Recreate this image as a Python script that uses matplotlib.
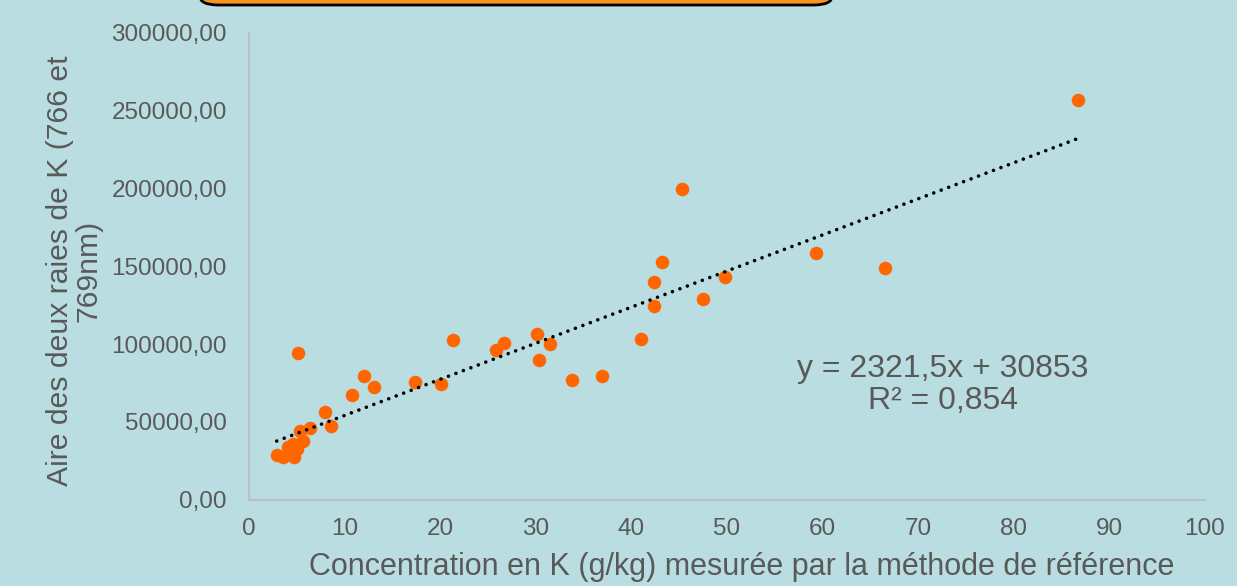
import matplotlib
matplotlib.use('Agg')
import matplotlib.pyplot as plt
from matplotlib.patches import FancyBboxPatch
from matplotlib.ticker import FuncFormatter
import numpy as np

# ===== DONNEES =====
conc_k = [2.9, 3.6, 4.7, 4.1, 4.6, 5.0, 5.7, 5.3, 6.4, 5.16,
          7.95, 8.58, 10.77, 12.03, 13.1, 17.36, 20.05, 21.37, 25.8, 26.67,
          30.16, 30.37, 31.49, 33.82, 36.96, 40.97, 42.4, 42.4, 43.2, 45.29,
          47.46, 49.8, 59.31, 66.5, 86.72]
aire_k = [28600, 27200, 27200, 34000, 35500, 32500, 37500, 44000, 45800, 94000,
          56500, 47300, 67000, 79400, 72150, 75800, 74500, 102600, 96100, 100800,
          106200, 89700, 99800, 76650, 79200, 103000, 124600, 139900, 152500, 199900,
          128800, 142900, 158500, 149100, 256900]
slope = 2321.5
intercept = 30853
eq_text = "y = 2321,5x + 30853\nR² = 0,854"
x_ticks = [0, 10, 20, 30, 40, 50, 60, 70, 80, 90, 100]
y_ticks = [0, 50000, 100000, 150000, 200000, 250000, 300000]

# ===== STYLE =====
BG = '#B9DDE1'
GREY = '#595959'
plt.rcParams['font.family'] = ['Liberation Sans', 'DejaVu Sans']

fig = plt.figure(figsize=(12.37, 5.86), dpi=100, facecolor=BG)
ax = fig.add_axes([0.2013, 0.1476, 0.7728, 0.7961], facecolor=BG)

ax.scatter(conc_k, aire_k, s=95, color='#FF6600', zorder=3, linewidths=0)

xs = np.array([min(conc_k), max(conc_k)])
ax.plot(xs, slope * xs + intercept, color='black', linewidth=2.6,
        linestyle=(0, (0.01, 2.2)), dash_capstyle='round', zorder=4)

ax.text(0.726, 0.245, eq_text, transform=ax.transAxes, ha='center', va='center',
        fontsize=23, color=GREY, linespacing=1.1)

ax.set_xlim(0, 100)
ax.set_ylim(0, 300000)
ax.set_xticks(x_ticks)
ax.set_yticks(y_ticks)
ax.yaxis.set_major_formatter(FuncFormatter(lambda v, p: f"{v:.2f}".replace('.', ',')))
ax.tick_params(length=0, labelsize=17.5, labelcolor=GREY)
ax.tick_params(axis='x', pad=13)
ax.tick_params(axis='y', pad=16)

for side in ['top', 'right']:
    ax.spines[side].set_visible(False)
for side in ['left', 'bottom']:
    ax.spines[side].set_color('#BFBFBF')
    ax.spines[side].set_linewidth(1.5)

ax.set_xlabel('Concentration en K (g/kg) mesurée par la méthode de référence',
              fontsize=22, color=GREY)
ax.xaxis.set_label_coords(0.515, -0.112)
ax.set_ylabel('Aire des deux raies de K (766 et\n769nm)', fontsize=21.7, color=GREY,
              va='center', ha='center', multialignment='center', linespacing=1.05)
ax.yaxis.set_label_coords(-0.183, 0.49)

# cadre du titre (coupé en haut)
box = FancyBboxPatch((200 / 1237, 581 / 586), 632 / 1237, 0.1,
                     boxstyle='round,pad=0,rounding_size=0.015',
                     transform=fig.transFigure, facecolor='#F7941D',
                     edgecolor='black', linewidth=2, clip_on=False)
fig.patches.append(box)

plt.savefig('out.png', dpi=100, facecolor=BG)
